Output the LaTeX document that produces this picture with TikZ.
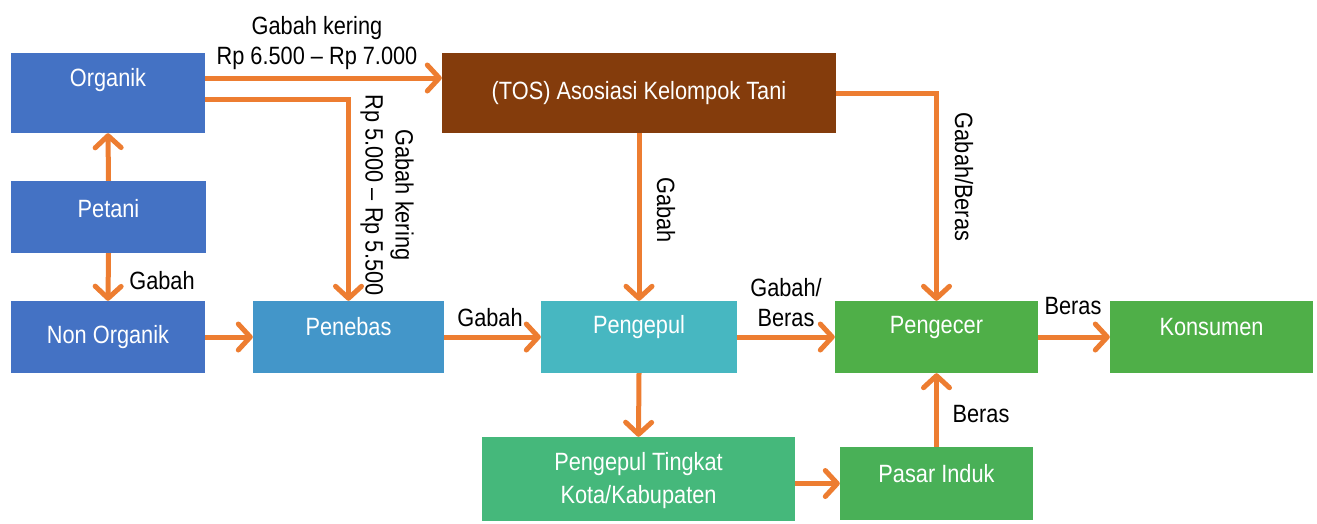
\documentclass[tikz,border=0pt]{standalone}
\usepackage{fontspec}
\setmainfont{Liberation Sans}[FakeStretch=0.87]
\usetikzlibrary{arrows.meta}
\definecolor{cblue}{HTML}{4472C4}
\definecolor{cpenebas}{HTML}{4396C9}
\definecolor{cteal}{HTML}{47B7C1}
\definecolor{cbrown}{HTML}{843C0C}
\definecolor{cgreen}{HTML}{4FAF48}
\definecolor{cmint}{HTML}{45B87B}
\definecolor{cmarket}{HTML}{49B057}
\definecolor{corange}{HTML}{ED7D31}
\begin{document}
\begin{tikzpicture}[x=1pt,y=-1pt,
  font=\fontsize{25pt}{30pt}\selectfont,
  box/.style={rectangle, inner sep=0pt, minimum width=#1},
  boxtxt/.style={text=white, inner sep=0pt, align=center},
  lbl/.style={text=black, inner sep=0pt, align=center},
  arr/.style={draw=corange, line width=5pt,
    -{Straight Barb[length=12pt,width=26pt,line cap=round,line join=round]}},
]
\useasboundingbox (0,0) rectangle (1317,523);

% boxes
\node[box=194pt, minimum height=80pt, fill=cblue]   (org) at (108,93) {};
\node[box=195pt, minimum height=72pt, fill=cblue]   (pet) at (108.5,217) {};
\node[box=194pt, minimum height=72pt, fill=cblue]   (non) at (108,337) {};
\node[box=191pt, minimum height=72pt, fill=cpenebas](peb) at (348.5,337) {};
\node[box=196pt, minimum height=72pt, fill=cteal]   (pgp) at (639,337) {};
\node[box=203pt, minimum height=72pt, fill=cgreen]  (pgc) at (936.5,337) {};
\node[box=203pt, minimum height=72pt, fill=cgreen]  (kon) at (1211.5,337) {};
\node[box=394pt, minimum height=80pt, fill=cbrown]  (tos) at (639,93) {};
\node[box=313pt, minimum height=84pt, fill=cmint]   (ptk) at (638.5,479) {};
\node[box=193pt, minimum height=73pt, fill=cmarket] (psr) at (936.5,483.5) {};

% box texts
\node[boxtxt] (torg) at ([yshift=13pt]org.center) {Organik};
\node[boxtxt] (tpet) at ([yshift=8pt]pet.center) {Petani};
\node[boxtxt] (tnon) at (non.center) {Non Organik};
\node[boxtxt] (tpeb) at ([yshift=10pt]peb.center) {Penebas};
\node[boxtxt] (tpgp) at ([yshift=10pt]pgp.center) {Pengepul};
\node[boxtxt] (tpgc) at ([yshift=10pt]pgc.center) {Pengecer};
\node[boxtxt] (tkon) at ([yshift=10pt]kon.center) {Konsumen};
\node[boxtxt] (ttos) at (tos.center) {(TOS) Asosiasi Kelompok Tani};
\node[boxtxt, font=\fontsize{25pt}{33pt}\selectfont] (tptk) at ([yshift=-2pt]ptk.center) {Pengepul Tingkat\\Kota/Kabupaten};
\node[boxtxt] (tpsr) at ([yshift=10pt]psr.center) {Pasar Induk};

% connectors
\draw[arr] (pet.north) -- (org.south);
\draw[arr] (pet.south) -- (non.north);
\draw[arr] ([yshift=15pt]org.east) -- ([yshift=15pt]tos.west);
\draw[arr] ([yshift=-6pt]org.east) -| (peb.north);
\draw[arr] (non.east) -- (peb.west);
\draw[arr] (peb.east) -- (pgp.west);
\draw[arr] (tos.south) -- (pgp.north);
\draw[arr] (tos.east) -| (pgc.north);
\draw[arr] (pgp.east) -- (pgc.west);
\draw[arr] (pgc.east) -- (kon.west);
\draw[arr] (pgp.south) -- (ptk.north);
\draw[arr] (psr.west -| ptk.east) -- (psr.west);
\draw[arr] (psr.north) -- (pgc.south);

% connector labels
\node[lbl] (l1) at (162,281) {Gabah};
\node[lbl] (l2) at (317,43) {Gabah kering\\Rp 6.500 -- Rp 7.000};
\node[lbl, rotate=-90] (l3) at (387,195) {Gabah kering\\Rp 5.000 -- Rp 5.500};
\node[lbl] (l4) at (490,318) {Gabah};
\node[lbl, rotate=-90] (l5) at (666,210) {Gabah};
\node[lbl] (l6) at (786,303) {Gabah/\\Beras};
\node[lbl, rotate=-90] (l7) at (964,177) {Gabah/Beras};
\node[lbl] (l8) at (1073,306) {Beras};
\node[lbl] (l9) at (981,414) {Beras};
\end{tikzpicture}
\end{document}
